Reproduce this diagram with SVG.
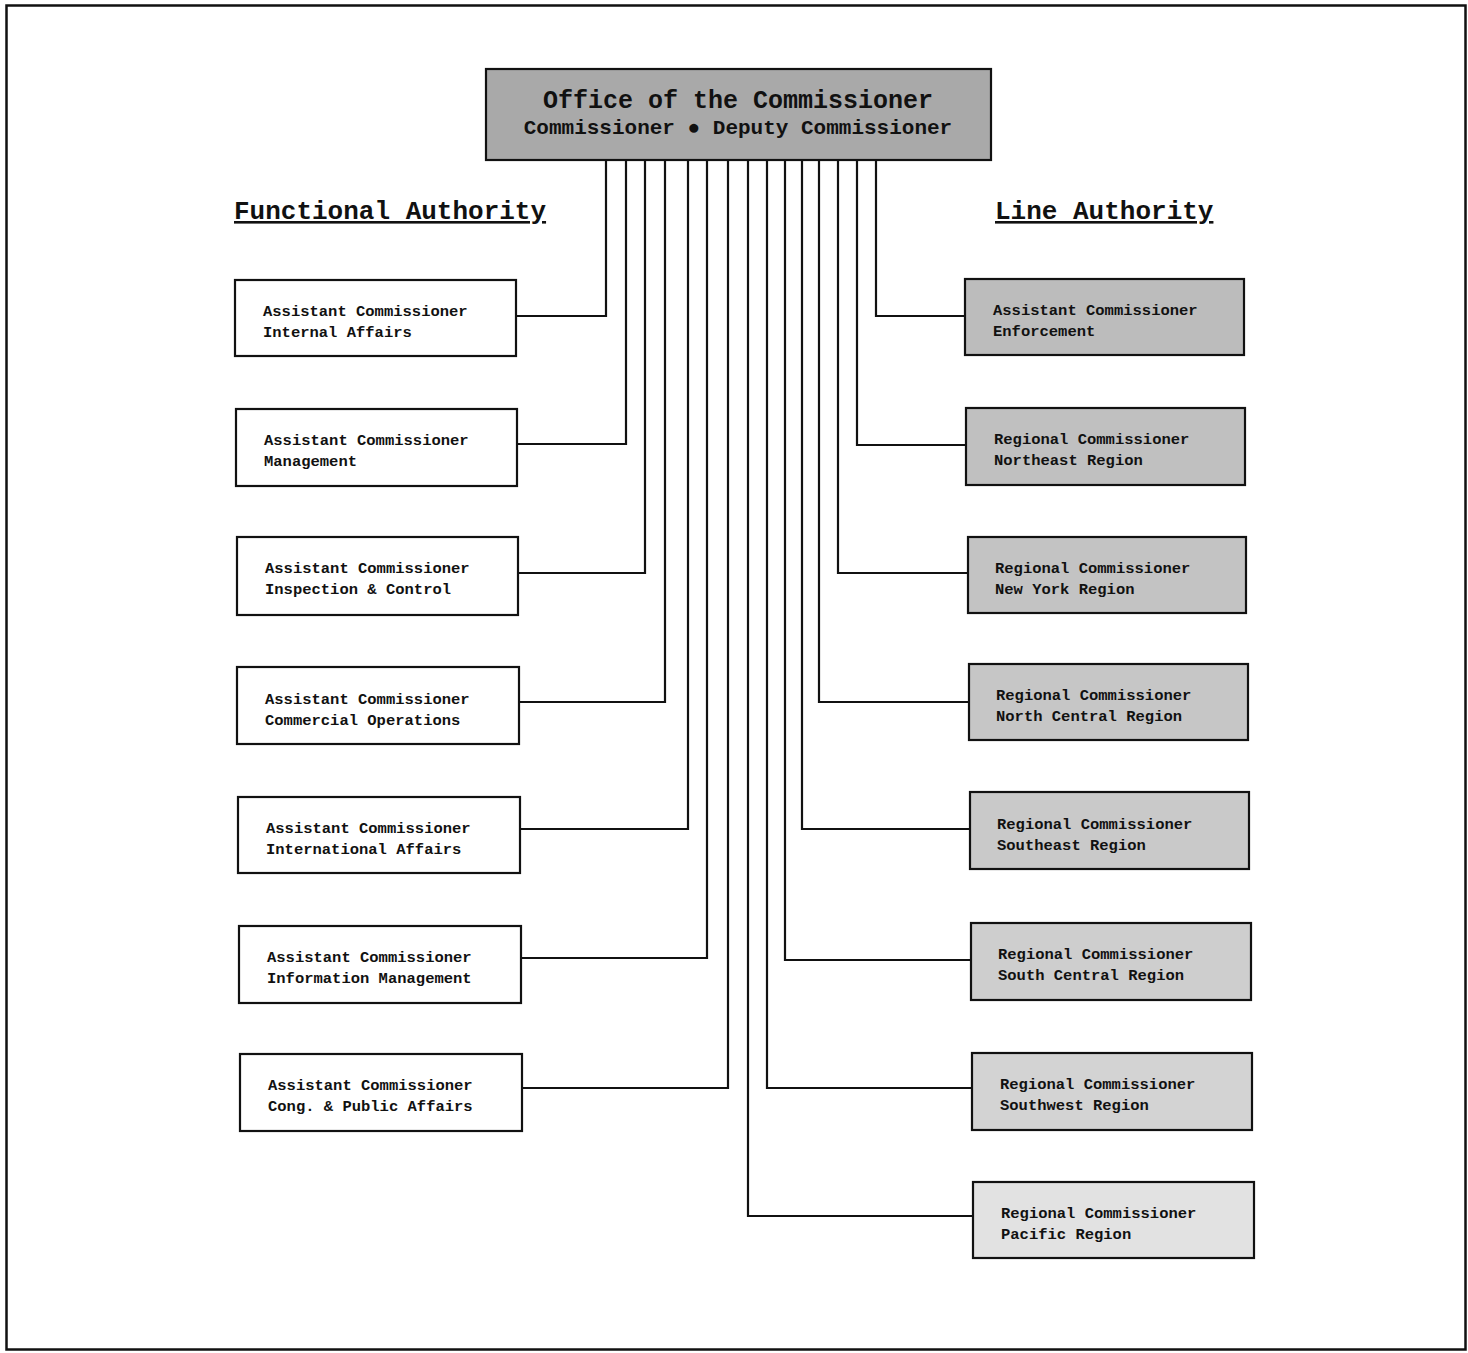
<svg xmlns="http://www.w3.org/2000/svg" width="1468" height="1353" viewBox="0 0 1468 1353">
<style>
.box{stroke:#111;stroke-width:2.2;}
.w{fill:#fff;}
.t{font-family:"Liberation Mono",monospace;font-weight:bold;font-size:15.5px;fill:#111;}
.h{font-family:"Liberation Mono",monospace;font-weight:bold;font-size:26px;fill:#111;text-decoration:underline;}
.c{fill:none;stroke:#111;stroke-width:2.2;}
</style>
<rect width="1468" height="1353" fill="#fff"/>
<rect x="6.5" y="5.5" width="1459" height="1344" fill="none" stroke="#111" stroke-width="2.5"/>

<g id="office">
<rect class="box" x="486" y="69" width="505" height="91" fill="#a9a9a9"/>
<text class="t" x="738" y="108" text-anchor="middle" style="font-size:25px">Office of the Commissioner</text>
<text class="t" x="738" y="134" text-anchor="middle" style="font-size:21px">Commissioner ● Deputy Commissioner</text>
</g>

<g id="headers">
<text class="h" x="234" y="219">Functional Authority</text>
<text class="h" x="995" y="219">Line Authority</text>
</g>

<g id="connectors">
<path class="c" d="M606 160V316H516"/>
<path class="c" d="M626 160V444H517"/>
<path class="c" d="M645 160V573H518"/>
<path class="c" d="M665 160V702H519"/>
<path class="c" d="M688 160V829H520"/>
<path class="c" d="M707 160V958H521"/>
<path class="c" d="M728 160V1088H522"/>
<path class="c" d="M876 160V316H965"/>
<path class="c" d="M857 160V445H966"/>
<path class="c" d="M838 160V573H968"/>
<path class="c" d="M819 160V702H969"/>
<path class="c" d="M802 160V829H970"/>
<path class="c" d="M785 160V960H971"/>
<path class="c" d="M767 160V1088H972"/>
<path class="c" d="M748 160V1216H973"/>
</g>

<g id="ac-internal-affairs">
<rect class="box w" x="235" y="280" width="281" height="76"/>
<text class="t" x="263" y="316">Assistant Commissioner</text>
<text class="t" x="263" y="337">Internal Affairs</text>
</g>
<g id="ac-management">
<rect class="box w" x="236" y="409" width="281" height="77"/>
<text class="t" x="264" y="445">Assistant Commissioner</text>
<text class="t" x="264" y="466">Management</text>
</g>
<g id="ac-inspection">
<rect class="box w" x="237" y="537" width="281" height="78"/>
<text class="t" x="265" y="573">Assistant Commissioner</text>
<text class="t" x="265" y="594">Inspection &amp; Control</text>
</g>
<g id="ac-commercial">
<rect class="box w" x="237" y="667" width="282" height="77"/>
<text class="t" x="265" y="704">Assistant Commissioner</text>
<text class="t" x="265" y="725">Commercial Operations</text>
</g>
<g id="ac-international">
<rect class="box w" x="238" y="797" width="282" height="76"/>
<text class="t" x="266" y="833">Assistant Commissioner</text>
<text class="t" x="266" y="854">International Affairs</text>
</g>
<g id="ac-info-mgmt">
<rect class="box w" x="239" y="926" width="282" height="77"/>
<text class="t" x="267" y="962">Assistant Commissioner</text>
<text class="t" x="267" y="983">Information Management</text>
</g>
<g id="ac-cong-public">
<rect class="box w" x="240" y="1054" width="282" height="77"/>
<text class="t" x="268" y="1090">Assistant Commissioner</text>
<text class="t" x="268" y="1111">Cong. &amp; Public Affairs</text>
</g>

<g id="ac-enforcement">
<rect class="box" x="965" y="279" width="279" height="76" fill="#bcbcbc"/>
<text class="t" x="993" y="315">Assistant Commissioner</text>
<text class="t" x="993" y="336">Enforcement</text>
</g>
<g id="rc-northeast">
<rect class="box" x="966" y="408" width="279" height="77" fill="#c0c0c0"/>
<text class="t" x="994" y="444">Regional Commissioner</text>
<text class="t" x="994" y="465">Northeast Region</text>
</g>
<g id="rc-new-york">
<rect class="box" x="968" y="537" width="278" height="76" fill="#c3c3c3"/>
<text class="t" x="995" y="573">Regional Commissioner</text>
<text class="t" x="995" y="594">New York Region</text>
</g>
<g id="rc-north-central">
<rect class="box" x="969" y="664" width="279" height="76" fill="#c6c6c6"/>
<text class="t" x="996" y="700">Regional Commissioner</text>
<text class="t" x="996" y="721">North Central Region</text>
</g>
<g id="rc-southeast">
<rect class="box" x="970" y="792" width="279" height="77" fill="#c9c9c9"/>
<text class="t" x="997" y="829">Regional Commissioner</text>
<text class="t" x="997" y="850">Southeast Region</text>
</g>
<g id="rc-south-central">
<rect class="box" x="971" y="923" width="280" height="77" fill="#cecece"/>
<text class="t" x="998" y="959">Regional Commissioner</text>
<text class="t" x="998" y="980">South Central Region</text>
</g>
<g id="rc-southwest">
<rect class="box" x="972" y="1053" width="280" height="77" fill="#d3d3d3"/>
<text class="t" x="1000" y="1089">Regional Commissioner</text>
<text class="t" x="1000" y="1110">Southwest Region</text>
</g>
<g id="rc-pacific">
<rect class="box" x="973" y="1182" width="281" height="76" fill="#e2e2e2"/>
<text class="t" x="1001" y="1218">Regional Commissioner</text>
<text class="t" x="1001" y="1239">Pacific Region</text>
</g>
</svg>
